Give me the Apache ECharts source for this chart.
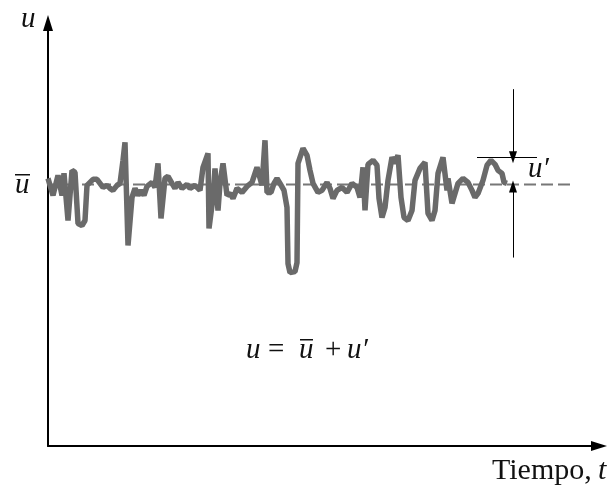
<!DOCTYPE html>
<html><head><meta charset="utf-8">
<script src="https://cdn.jsdelivr.net/npm/echarts@6/dist/echarts.min.js"></script>
<style>html,body{margin:0;padding:0;background:#fff}#c{width:614px;height:489px}</style>
</head><body><div id="c"></div>
<script>
// Time (arbitrary units) and instantaneous velocity u (arbitrary units)
const timeValues = [0,5,10,14,16,20,24,27,30,34,37,39,42,45,49,52,55,59,62,65,69,72,75,77,80,84,87,90,93,96,99,104,107,110,113,117,120,124,127,130,134,139,142,147,152,155,160,161,165,167,170,172,175,179,182,185,189,194,199,204,209,214,217,219,223,226,229,232,236,239,240,242,247,249,250,255,259,262,265,270,274,279,282,285,289,294,299,304,309,312,315,317,320,325,329,331,334,337,340,344,347,350,353,356,360,364,367,372,377,380,384,387,390,395,399,400,404,407,410,415,420,424,427,430,435,439,443,447,450,454,456,459];
const uValues = [267,250,270,250,272,225,275,273,222,220,225,260,263,266,266,262,258,260,257,255,260,262,285,303,200,248,257,250,255,250,259,263,258,282,227,267,269,262,257,263,257,261,257,260,255,278,292,217,248,277,235,262,282,250,252,247,257,253,259,263,278,260,305,253,253,262,267,262,255,238,182,173,174,183,282,297,290,275,262,253,255,263,257,247,255,258,253,262,258,248,278,235,281,285,280,247,228,238,265,288,282,290,248,228,225,235,265,277,283,232,225,235,272,288,255,267,242,252,262,267,263,255,248,252,265,280,285,281,275,272,263,262];
const uMean = 261;          // mean velocity ū
const uPrimeLevel = 288;    // level of the marked fluctuation u'
const meanLineEnd = 522;    // time where the dashed mean line ends
const markTime = 465;       // time of the u' dimension arrows
const peakLineRange = [429, 489];
const axisMaxT = 551;
const axisMaxU = 422;

const pts = timeValues.map((t, i) => [t, uValues[i]]);
const serif = '"Liberation Serif","DejaVu Serif",serif';
const ink = '#111';

const chart = echarts.init(document.getElementById('c'));
chart.setOption({
  animation: false,
  backgroundColor: '#fff',
  grid: { left: 48, right: 15, top: 23, bottom: 43 },
  xAxis: {
    type: 'value', min: 0, max: axisMaxT,
    axisLine: { show: true, onZero: false, symbol: ['none', 'triangle'], symbolSize: [10, 16], lineStyle: { color: '#000', width: 2 } },
    axisTick: { show: false }, axisLabel: { show: false }, splitLine: { show: false }
  },
  yAxis: {
    type: 'value', min: 0, max: axisMaxU,
    axisLine: { show: true, onZero: false, symbol: ['none', 'triangle'], symbolSize: [10, 16], lineStyle: { color: '#000', width: 2 } },
    axisTick: { show: false }, axisLabel: { show: false }, splitLine: { show: false }
  },
  series: [
    {
      type: 'line', silent: true, symbol: 'none',
      data: [[0, uMean], [meanLineEnd, uMean]],
      lineStyle: { color: '#777', width: 2, type: [12, 5] },
      z: 1
    },
    {
      type: 'line', silent: true, symbol: 'none',
      data: pts,
      lineStyle: { color: '#6a6a6a', width: 5.5 },
      z: 2
    },
    {
      type: 'line', silent: true, symbol: 'none', data: [],
      markLine: {
        silent: true, animation: false,
        label: { show: false },
        lineStyle: { color: '#000', width: 1, type: 'solid' },
        data: [
          [{ coord: [markTime, 356], symbol: 'none' }, { coord: [markTime, uPrimeLevel], symbol: 'triangle', symbolSize: [8, 12] }],
          [{ coord: [markTime, 188], symbol: 'none' }, { coord: [markTime, uMean - 2], symbol: 'triangle', symbolSize: [8, 12] }],
          [{ coord: [peakLineRange[0], uPrimeLevel], symbol: 'none' }, { coord: [peakLineRange[1], uPrimeLevel], symbol: 'none' }]
        ]
      }
    }
  ],
  graphic: [
    { type: 'text', left: 21, top: 5, style: { text: 'u', font: 'italic 29px ' + serif, fill: ink } },
    { type: 'text', left: 15, top: 171, style: { text: 'u', font: 'italic 29px ' + serif, fill: ink } },
    { type: 'rect', shape: { x: 15, y: 174, width: 15, height: 1.5 }, style: { fill: ink } },
    { type: 'text', left: 246, top: 336, style: { text: 'u', font: 'italic 29px ' + serif, fill: ink } },
    { type: 'text', left: 268, top: 336, style: { text: '=', font: '29px ' + serif, fill: ink } },
    { type: 'text', left: 299, top: 336, style: { text: 'u', font: 'italic 29px ' + serif, fill: ink } },
    { type: 'rect', shape: { x: 300, y: 339, width: 13, height: 1.5 }, style: { fill: ink } },
    { type: 'text', left: 325, top: 336, style: { text: '+', font: '29px ' + serif, fill: ink } },
    { type: 'text', left: 347, top: 336, style: { text: 'u′', font: 'italic 29px ' + serif, fill: ink } },
    { type: 'text', left: 528, top: 155, style: { text: 'u′', font: 'italic 29px ' + serif, fill: ink } },
    { type: 'text', left: 492, top: 456, style: { text: 'Tiempo, ', font: '30px ' + serif, fill: ink } },
    { type: 'text', left: 598, top: 456, style: { text: 't', font: 'italic 30px ' + serif, fill: ink } }
  ]
});
</script>
</body></html>
